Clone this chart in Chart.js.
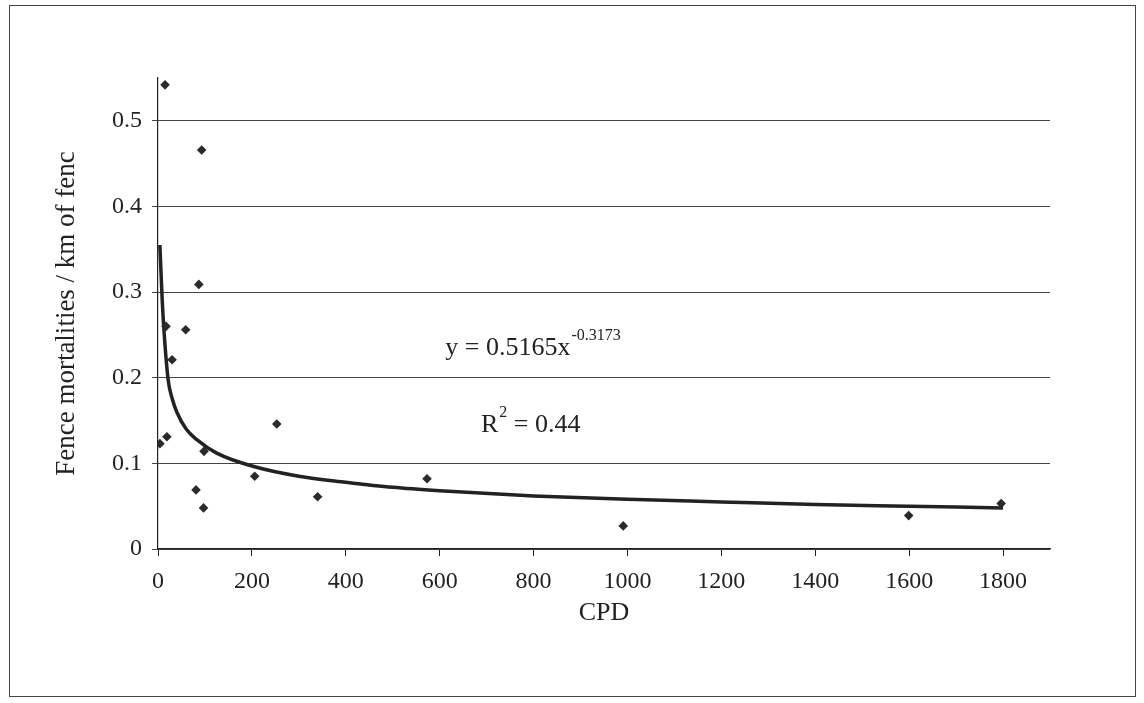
<!DOCTYPE html>
<html>
<head>
<meta charset="utf-8">
<title>Fence mortalities vs CPD</title>
<script src="https://cdn.jsdelivr.net/npm/chart.js@4.4.1/dist/chart.umd.min.js"></script>
<style>
  html, body { margin: 0; padding: 0; background: #fff; }
  #wrap { position: relative; width: 1144px; height: 703px; }
  #frame {
    position: absolute; left: 9px; top: 5px; width: 1125px; height: 690px;
    border: 1px solid #444; pointer-events: none;
  }
</style>
</head>
<body>
<div id="wrap">
  <canvas id="chart" width="1144" height="703"></canvas>
  <div id="frame"></div>
</div>
<script>
  // observed points (CPD, mortalities per km)
  const cpd = [15, 93, 87, 17, 59, 30, 4, 19, 98, 81, 97, 253, 206, 340, 573, 991, 1599, 1796];
  const mort = [0.542, 0.466, 0.309, 0.26, 0.256, 0.221, 0.123, 0.131, 0.114, 0.069, 0.048,
                0.146, 0.085, 0.061, 0.082, 0.027, 0.039, 0.053];

  // power trend line
  const trendX = [4, 9, 14, 22, 30, 40, 60, 82, 125, 206, 300, 400, 500, 600, 800, 1000, 1200, 1400, 1600, 1800];
  const trendY = [0.355, 0.29, 0.245, 0.196, 0.176, 0.160, 0.140, 0.128, 0.112, 0.096, 0.085,
                  0.078, 0.072, 0.068, 0.062, 0.058, 0.055, 0.052, 0.050, 0.048];

  const xTitle = "CPD";
  const yTitle = "Fence mortalities / km of fenc";
  const eqText = { base: "y = 0.5165x", sup: "-0.3173", at: [612, 0.235] };
  const r2Text = { base: "R", sup: "2", rest: " = 0.44", at: [688, 0.145] };

  const FONT = "'Liberation Serif', 'Times New Roman', serif";
  const INK = "#222";

  const labelsPlugin = {
    id: "fitLabels",
    afterDatasetsDraw(chart) {
      const { ctx, scales } = chart;
      ctx.save();
      ctx.fillStyle = INK;
      ctx.textBaseline = "middle";
      ctx.textAlign = "left";

      let x = scales.x.getPixelForValue(eqText.at[0]);
      let y = scales.y.getPixelForValue(eqText.at[1]);
      ctx.font = `26px ${FONT}`;
      ctx.fillText(eqText.base, x, y);
      let w = ctx.measureText(eqText.base).width;
      ctx.font = `16px ${FONT}`;
      ctx.fillText(eqText.sup, x + w + 1, y - 12);

      x = scales.x.getPixelForValue(r2Text.at[0]);
      y = scales.y.getPixelForValue(r2Text.at[1]);
      ctx.font = `26px ${FONT}`;
      ctx.fillText(r2Text.base, x, y);
      w = ctx.measureText(r2Text.base).width;
      ctx.font = `16px ${FONT}`;
      ctx.fillText(r2Text.sup, x + w + 1, y - 12);
      const w2 = ctx.measureText(r2Text.sup).width;
      ctx.font = `26px ${FONT}`;
      ctx.fillText(r2Text.rest, x + w + w2 + 1, y);
      ctx.restore();
    },
  };

  new Chart(document.getElementById("chart"), {
    type: "scatter",
    data: {
      datasets: [
        {
          label: "trend",
          type: "line",
          data: trendX.map((v, i) => ({ x: v, y: trendY[i] })),
          borderColor: INK,
          borderWidth: 3.5,
          pointRadius: 0,
          cubicInterpolationMode: "monotone",
          fill: false,
          order: 2,
        },
        {
          label: "observed",
          data: cpd.map((v, i) => ({ x: v, y: mort[i] })),
          pointStyle: "rectRot",
          pointRadius: 4.8,
          backgroundColor: "#2a2a2a",
          borderColor: "#2a2a2a",
          borderWidth: 0,
          order: 1,
        },
      ],
    },
    options: {
      responsive: false,
      animation: false,
      layout: { padding: { left: 0, top: 78, right: 94, bottom: 0 } },
      plugins: { legend: { display: false }, tooltip: { enabled: false } },
      scales: {
        x: {
          type: "linear",
          min: 0,
          max: 1900,
          afterFit: (s) => { s.height = 154; },
          border: { color: INK, width: 1.2 },
          grid: { drawOnChartArea: false, drawTicks: true, tickLength: 7, color: INK },
          ticks: { stepSize: 200, includeBounds: false, padding: 11, color: INK,
                   callback: (v) => String(v),
                   font: { family: FONT, size: 24 } },
          title: { display: true, text: xTitle, color: INK, padding: { top: 0, bottom: 74 },
                   font: { family: FONT, size: 26 } },
        },
        y: {
          min: 0,
          max: 0.55,
          afterFit: (s) => { s.width = 158; },
          border: { color: INK, width: 1.2 },
          grid: { color: "#444", tickLength: 6, lineWidth: 1 },
          ticks: { stepSize: 0.1, includeBounds: false, padding: 10, color: INK,
                   callback: (v) => String(Math.round(v * 10) / 10),
                   font: { family: FONT, size: 24 } },
          title: { display: true, text: yTitle, color: INK, padding: { top: 51, bottom: 0 },
                   font: { family: FONT, size: 27 } },
        },
      },
    },
    plugins: [labelsPlugin],
  });
</script>
</body>
</html>
